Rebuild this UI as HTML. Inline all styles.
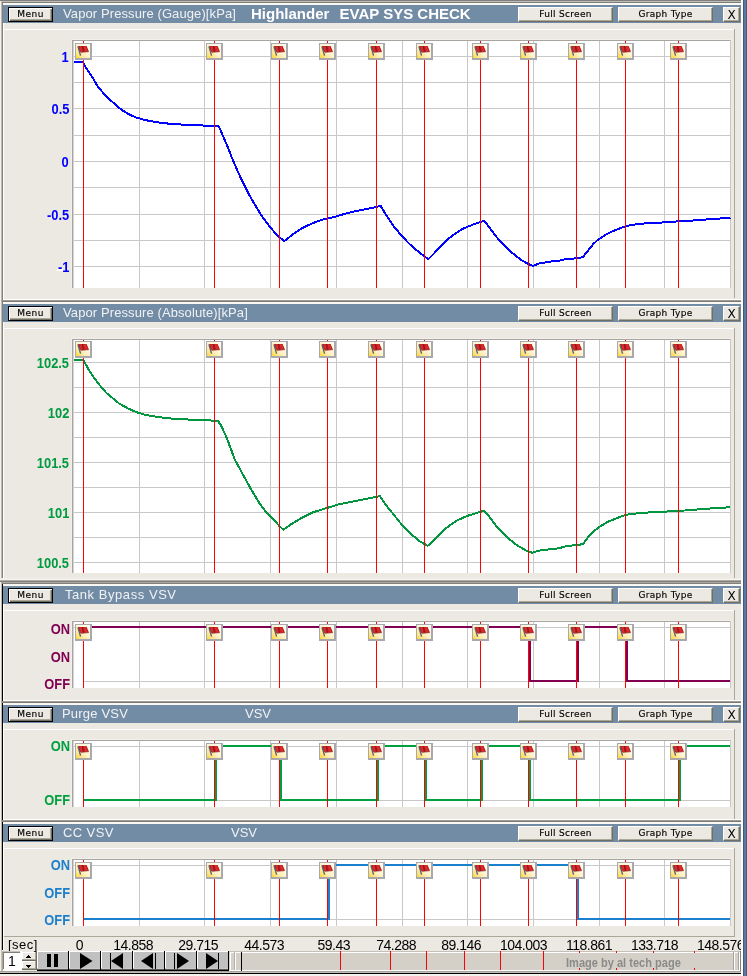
<!DOCTYPE html>
<html><head><meta charset="utf-8"><title>EVAP SYS CHECK</title><style>
*{margin:0;padding:0;box-sizing:border-box}
html,body{width:747px;height:976px;overflow:hidden;background:#ece9e2}
body{position:relative;font-family:"Liberation Sans", Arial, sans-serif}
div,span{position:absolute}
.t{white-space:nowrap}
.ttl{font-size:13px;line-height:18px;color:#f0f2f4}
.ttlb{font-size:15px;line-height:18px;color:#ffffff;font-weight:bold}
.btn{background:#ece9e2;border-top:1px solid #fff;border-left:1px solid #fff;border-right:1px solid #716f64;border-bottom:1px solid #716f64;box-shadow:inset -1px -1px 0 #aca899}
.btn.menu{border:1px solid #000;box-shadow:inset 1px 1px 0 #fff, inset -1px -1px 0 #716f64, inset -2px -2px 0 #aca899}
.bi{position:absolute;left:0;right:0;top:0;bottom:0;text-align:center;font-family:"DejaVu Sans",sans-serif;font-size:9px;line-height:13px;letter-spacing:0.3px;color:#000;-webkit-text-stroke:0.15px #000}
.menu .bi{letter-spacing:0.5px}
.bi.x{font-size:12px;letter-spacing:0;line-height:14px;-webkit-text-stroke:0}
.yl{font-size:14px;line-height:14px;font-weight:bold;white-space:nowrap;transform:scaleX(0.92);transform-origin:100% 50%}
.ax{font-size:14px;line-height:13px;color:#000;white-space:nowrap;letter-spacing:-0.5px}
.tb{background:#c0c0c0;border-right:1px solid #000;box-shadow:inset 1px 0 0 #fff}
.wm{font-size:13px;line-height:13px;font-weight:bold;color:#8a8a8a;transform:scaleX(0.85);transform-origin:0 0;white-space:nowrap}
</style></head>
<body>
<div style="left:0px;top:0px;width:741px;height:1px;background:#808080;"></div>
<div style="left:0px;top:1px;width:1px;height:975px;background:#f4f1eb;"></div>
<div style="left:1px;top:1px;width:1px;height:972px;background:#bdb9b0;"></div>
<div style="left:2px;top:2px;width:1px;height:579px;background:#808080;"></div>
<div style="left:2px;top:583px;width:1px;height:367px;background:#000000;"></div>
<div style="left:3px;top:3px;width:1px;height:947px;background:#ffffff;"></div>
<div style="left:1px;top:1px;width:740px;height:1px;background:#c0bcb4;"></div>
<div style="left:2px;top:2px;width:739px;height:1px;background:#7f7f7a;"></div>
<div style="left:3px;top:3px;width:738px;height:2px;background:#faf8f3;"></div>
<div style="left:3px;top:5px;width:738px;height:18px;background:#738ca5;"></div>
<div class="btn menu" style="left:8px;top:7px;width:45px;height:15px"><div class="bi">Menu</div></div>
<div class="btn" style="left:518px;top:7px;width:95px;height:15px"><div class="bi">Full Screen</div></div>
<div class="btn" style="left:618px;top:7px;width:95px;height:15px"><div class="bi">Graph Type</div></div>
<div class="btn" style="left:723px;top:7px;width:17px;height:15px"><div class="bi x">X</div></div>
<span class="t ttl" style="left:63px;top:5px;letter-spacing:0.1px">Vapor Pressure (Gauge)[kPa]</span>
<span class="t ttlb" style="left:251px;top:5px;">Highlander</span>
<span class="t ttlb" style="left:339.5px;top:5px;">EVAP SYS CHECK</span>
<div style="left:3px;top:29px;width:732px;height:1px;background:#ffffff;"></div>
<div style="left:734px;top:29px;width:1px;height:269px;background:#aca899;"></div>
<div style="left:71px;top:39px;width:660px;height:1px;background:#f2f0ea;"></div>
<div style="left:71px;top:39px;width:1px;height:249px;background:#f2f0ea;"></div>
<div style="left:72px;top:40px;width:659px;height:248px;background:#ffffff;"></div>
<div style="left:72px;top:40px;width:659px;height:1px;background:#a8a5a0;"></div>
<div style="left:72px;top:40px;width:1px;height:248px;background:#a8a5a0;"></div>
<div style="left:73px;top:41px;width:1px;height:247px;background:#d4d4d4;"></div>
<div style="left:730px;top:40px;width:1px;height:248px;background:#c8c8c8;"></div>
<div style="left:3px;top:299px;width:738px;height:1px;background:#ffffff;"></div>
<div style="left:1px;top:300px;width:740px;height:1px;background:#a09d95;"></div>
<div style="left:2px;top:301px;width:739px;height:1px;background:#7a7a72;"></div>
<div style="left:3px;top:302px;width:738px;height:2px;background:#faf8f3;"></div>
<div style="left:3px;top:304px;width:738px;height:18px;background:#738ca5;"></div>
<div class="btn menu" style="left:8px;top:306px;width:45px;height:15px"><div class="bi">Menu</div></div>
<div class="btn" style="left:518px;top:306px;width:95px;height:15px"><div class="bi">Full Screen</div></div>
<div class="btn" style="left:618px;top:306px;width:95px;height:15px"><div class="bi">Graph Type</div></div>
<div class="btn" style="left:723px;top:306px;width:17px;height:15px"><div class="bi x">X</div></div>
<span class="t ttl" style="left:63px;top:304px;letter-spacing:0.1px">Vapor Pressure (Absolute)[kPa]</span>
<div style="left:3px;top:328px;width:732px;height:1px;background:#ffffff;"></div>
<div style="left:734px;top:328px;width:1px;height:250px;background:#aca899;"></div>
<div style="left:71px;top:338px;width:660px;height:1px;background:#f2f0ea;"></div>
<div style="left:71px;top:338px;width:1px;height:235px;background:#f2f0ea;"></div>
<div style="left:72px;top:339px;width:659px;height:234px;background:#ffffff;"></div>
<div style="left:72px;top:339px;width:659px;height:1px;background:#a8a5a0;"></div>
<div style="left:72px;top:339px;width:1px;height:234px;background:#a8a5a0;"></div>
<div style="left:73px;top:340px;width:1px;height:233px;background:#d4d4d4;"></div>
<div style="left:730px;top:339px;width:1px;height:234px;background:#c8c8c8;"></div>
<div style="left:0px;top:578px;width:741px;height:1px;background:#f0ede8;"></div>
<div style="left:0px;top:579px;width:741px;height:1px;background:#f6f4ee;"></div>
<div style="left:0px;top:580px;width:741px;height:1px;background:#b0ada5;"></div>
<div style="left:0px;top:581px;width:741px;height:1px;background:#808078;"></div>
<div style="left:1px;top:582px;width:740px;height:1px;background:#aca899;"></div>
<div style="left:2px;top:583px;width:739px;height:1px;background:#808080;"></div>
<div style="left:3px;top:584px;width:738px;height:2px;background:#faf8f3;"></div>
<div style="left:3px;top:586px;width:738px;height:18px;background:#738ca5;"></div>
<div class="btn menu" style="left:8px;top:588px;width:45px;height:15px"><div class="bi">Menu</div></div>
<div class="btn" style="left:518px;top:588px;width:95px;height:15px"><div class="bi">Full Screen</div></div>
<div class="btn" style="left:618px;top:588px;width:95px;height:15px"><div class="bi">Graph Type</div></div>
<div class="btn" style="left:723px;top:588px;width:17px;height:15px"><div class="bi x">X</div></div>
<span class="t ttl" style="left:65px;top:586px;letter-spacing:0.55px">Tank Bypass VSV</span>
<div style="left:3px;top:610px;width:732px;height:1px;background:#ffffff;"></div>
<div style="left:734px;top:610px;width:1px;height:90px;background:#aca899;"></div>
<div style="left:71px;top:620px;width:660px;height:1px;background:#f2f0ea;"></div>
<div style="left:71px;top:620px;width:1px;height:68px;background:#f2f0ea;"></div>
<div style="left:72px;top:621px;width:659px;height:67px;background:#ffffff;"></div>
<div style="left:72px;top:621px;width:659px;height:1px;background:#a8a5a0;"></div>
<div style="left:72px;top:621px;width:1px;height:67px;background:#a8a5a0;"></div>
<div style="left:73px;top:622px;width:1px;height:66px;background:#d4d4d4;"></div>
<div style="left:730px;top:621px;width:1px;height:67px;background:#c8c8c8;"></div>
<div style="left:3px;top:700px;width:738px;height:1px;background:#ffffff;"></div>
<div style="left:1px;top:701px;width:740px;height:1px;background:#a09d95;"></div>
<div style="left:2px;top:702px;width:739px;height:1px;background:#7a7a72;"></div>
<div style="left:3px;top:703px;width:738px;height:2px;background:#faf8f3;"></div>
<div style="left:3px;top:705px;width:738px;height:18px;background:#738ca5;"></div>
<div class="btn menu" style="left:8px;top:707px;width:45px;height:15px"><div class="bi">Menu</div></div>
<div class="btn" style="left:518px;top:707px;width:95px;height:15px"><div class="bi">Full Screen</div></div>
<div class="btn" style="left:618px;top:707px;width:95px;height:15px"><div class="bi">Graph Type</div></div>
<div class="btn" style="left:723px;top:707px;width:17px;height:15px"><div class="bi x">X</div></div>
<span class="t ttl" style="left:62px;top:705px;letter-spacing:0.2px">Purge VSV</span>
<span class="t ttl" style="left:245px;top:705px;">VSV</span>
<div style="left:3px;top:729px;width:732px;height:1px;background:#ffffff;"></div>
<div style="left:734px;top:729px;width:1px;height:90px;background:#aca899;"></div>
<div style="left:71px;top:739px;width:660px;height:1px;background:#f2f0ea;"></div>
<div style="left:71px;top:739px;width:1px;height:68px;background:#f2f0ea;"></div>
<div style="left:72px;top:740px;width:659px;height:67px;background:#ffffff;"></div>
<div style="left:72px;top:740px;width:659px;height:1px;background:#a8a5a0;"></div>
<div style="left:72px;top:740px;width:1px;height:67px;background:#a8a5a0;"></div>
<div style="left:73px;top:741px;width:1px;height:66px;background:#d4d4d4;"></div>
<div style="left:730px;top:740px;width:1px;height:67px;background:#c8c8c8;"></div>
<div style="left:3px;top:819px;width:738px;height:1px;background:#ffffff;"></div>
<div style="left:1px;top:820px;width:740px;height:1px;background:#a09d95;"></div>
<div style="left:2px;top:821px;width:739px;height:1px;background:#7a7a72;"></div>
<div style="left:3px;top:822px;width:738px;height:2px;background:#faf8f3;"></div>
<div style="left:3px;top:824px;width:738px;height:18px;background:#738ca5;"></div>
<div class="btn menu" style="left:8px;top:826px;width:45px;height:15px"><div class="bi">Menu</div></div>
<div class="btn" style="left:518px;top:826px;width:95px;height:15px"><div class="bi">Full Screen</div></div>
<div class="btn" style="left:618px;top:826px;width:95px;height:15px"><div class="bi">Graph Type</div></div>
<div class="btn" style="left:723px;top:826px;width:17px;height:15px"><div class="bi x">X</div></div>
<span class="t ttl" style="left:63px;top:824px;letter-spacing:0.4px">CC VSV</span>
<span class="t ttl" style="left:231px;top:824px;">VSV</span>
<div style="left:3px;top:848px;width:732px;height:1px;background:#ffffff;"></div>
<div style="left:734px;top:848px;width:1px;height:88px;background:#aca899;"></div>
<div style="left:71px;top:858px;width:660px;height:1px;background:#f2f0ea;"></div>
<div style="left:71px;top:858px;width:1px;height:68px;background:#f2f0ea;"></div>
<div style="left:72px;top:859px;width:659px;height:67px;background:#ffffff;"></div>
<div style="left:72px;top:859px;width:659px;height:1px;background:#a8a5a0;"></div>
<div style="left:72px;top:859px;width:1px;height:67px;background:#a8a5a0;"></div>
<div style="left:73px;top:860px;width:1px;height:66px;background:#d4d4d4;"></div>
<div style="left:730px;top:859px;width:1px;height:67px;background:#c8c8c8;"></div>
<div style="left:4px;top:936px;width:731px;height:1px;background:#aca899;"></div>
<span class="yl" style="right:678px;top:50px;color:#0000ff">1</span>
<span class="yl" style="right:678px;top:102px;color:#0000ff">0.5</span>
<span class="yl" style="right:678px;top:155px;color:#0000ff">0</span>
<span class="yl" style="right:678px;top:208px;color:#0000ff">-0.5</span>
<span class="yl" style="right:678px;top:260px;color:#0000ff">-1</span>
<span class="yl" style="right:678px;top:356px;color:#009a40">102.5</span>
<span class="yl" style="right:678px;top:406px;color:#009a40">102</span>
<span class="yl" style="right:678px;top:456px;color:#009a40">101.5</span>
<span class="yl" style="right:678px;top:506px;color:#009a40">101</span>
<span class="yl" style="right:678px;top:556px;color:#009a40">100.5</span>
<span class="yl" style="right:677px;top:622px;color:#820052">ON</span>
<span class="yl" style="right:677px;top:650px;color:#820052">ON</span>
<span class="yl" style="right:677px;top:677px;color:#820052">OFF</span>
<span class="yl" style="right:677px;top:739px;color:#00a040">ON</span>
<span class="yl" style="right:677px;top:793px;color:#00a040">OFF</span>
<span class="yl" style="right:677px;top:858px;color:#1a7fcc">ON</span>
<span class="yl" style="right:677px;top:886px;color:#1a7fcc">OFF</span>
<span class="yl" style="right:677px;top:913px;color:#1a7fcc">OFF</span>
<div style="left:57px;top:269px;width:6px;height:2px;background:#ffffff;"></div>
<span class="t ax" style="left:8px;top:938px;font-size:13px;letter-spacing:0.5px">[sec]</span>
<span class="ax" style="right:664px;top:939px">0</span>
<span class="ax" style="right:594px;top:939px">14.858</span>
<span class="ax" style="right:529px;top:939px">29.715</span>
<span class="ax" style="right:463px;top:939px">44.573</span>
<span class="ax" style="right:397px;top:939px">59.43</span>
<span class="ax" style="right:331px;top:939px">74.288</span>
<span class="ax" style="right:266px;top:939px">89.146</span>
<span class="ax" style="right:200px;top:939px">104.003</span>
<span class="ax" style="right:135px;top:939px">118.861</span>
<span class="ax" style="right:69px;top:939px">133.718</span>
<span class="ax" style="right:3px;top:939px">148.576</span>
<svg width="747" height="976" viewBox="0 0 747 976" style="position:absolute;left:0;top:0">
<defs><linearGradient id="fg" x1="0" y1="1" x2="1" y2="0"><stop offset="0" stop-color="#ffd628"/><stop offset="0.22" stop-color="#ffe68a"/><stop offset="0.5" stop-color="#fff3cf"/><stop offset="1" stop-color="#fffff6"/></linearGradient><g id="flag"><rect x="0" y="0" width="17" height="17" fill="#a9a9ad"/><rect x="1" y="1" width="14" height="14" fill="url(#fg)"/><path d="M3,3 L11.6,3 L13.9,8.6 L5.4,9.3 L3.6,6.5 Z" fill="#b81a1e"/><path d="M4.3,3.3 L6.6,3.3 L7.8,8.9 L5.8,9.1 Z" fill="#dc2c2e"/><path d="M8.4,3.3 L10.9,3.3 L12.7,8.5 L10.1,8.7 Z" fill="#dc2c2e"/><path d="M7.3,3 L8.5,9" stroke="#861818" stroke-width="0.9"/><path d="M6,9.4 L13.9,8.6" stroke="#8a2a30" stroke-width="0.7"/><path d="M2.9,3.4 L5.6,12.6" stroke="#5c6272" stroke-width="1.4"/></g></defs>
<g shape-rendering="crispEdges">
<rect x="74" y="56" width="656" height="1" fill="#c8c8c8"/>
<rect x="74" y="82" width="656" height="1" fill="#c8c8c8"/>
<rect x="74" y="108" width="656" height="1" fill="#c8c8c8"/>
<rect x="74" y="135" width="656" height="1" fill="#c8c8c8"/>
<rect x="74" y="161" width="656" height="1" fill="#c8c8c8"/>
<rect x="74" y="187" width="656" height="1" fill="#c8c8c8"/>
<rect x="74" y="214" width="656" height="1" fill="#c8c8c8"/>
<rect x="74" y="240" width="656" height="1" fill="#c8c8c8"/>
<rect x="74" y="266" width="656" height="1" fill="#c8c8c8"/>
<rect x="139" y="41" width="1" height="247" fill="#c8c8c8"/>
<rect x="204" y="41" width="1" height="247" fill="#c8c8c8"/>
<rect x="270" y="41" width="1" height="247" fill="#c8c8c8"/>
<rect x="336" y="41" width="1" height="247" fill="#c8c8c8"/>
<rect x="402" y="41" width="1" height="247" fill="#c8c8c8"/>
<rect x="467" y="41" width="1" height="247" fill="#c8c8c8"/>
<rect x="533" y="41" width="1" height="247" fill="#c8c8c8"/>
<rect x="599" y="41" width="1" height="247" fill="#c8c8c8"/>
<rect x="664" y="41" width="1" height="247" fill="#c8c8c8"/>
<rect x="74" y="362" width="656" height="1" fill="#c8c8c8"/>
<rect x="74" y="387" width="656" height="1" fill="#c8c8c8"/>
<rect x="74" y="412" width="656" height="1" fill="#c8c8c8"/>
<rect x="74" y="437" width="656" height="1" fill="#c8c8c8"/>
<rect x="74" y="462" width="656" height="1" fill="#c8c8c8"/>
<rect x="74" y="487" width="656" height="1" fill="#c8c8c8"/>
<rect x="74" y="512" width="656" height="1" fill="#c8c8c8"/>
<rect x="74" y="537" width="656" height="1" fill="#c8c8c8"/>
<rect x="74" y="562" width="656" height="1" fill="#c8c8c8"/>
<rect x="139" y="340" width="1" height="233" fill="#c8c8c8"/>
<rect x="204" y="340" width="1" height="233" fill="#c8c8c8"/>
<rect x="270" y="340" width="1" height="233" fill="#c8c8c8"/>
<rect x="336" y="340" width="1" height="233" fill="#c8c8c8"/>
<rect x="402" y="340" width="1" height="233" fill="#c8c8c8"/>
<rect x="467" y="340" width="1" height="233" fill="#c8c8c8"/>
<rect x="533" y="340" width="1" height="233" fill="#c8c8c8"/>
<rect x="599" y="340" width="1" height="233" fill="#c8c8c8"/>
<rect x="664" y="340" width="1" height="233" fill="#c8c8c8"/>
<rect x="74" y="627" width="656" height="1" fill="#c8c8c8"/>
<rect x="84" y="681" width="646" height="1" fill="#c8c8c8"/>
<rect x="139" y="622" width="1" height="66" fill="#c8c8c8"/>
<rect x="204" y="622" width="1" height="66" fill="#c8c8c8"/>
<rect x="270" y="622" width="1" height="66" fill="#c8c8c8"/>
<rect x="336" y="622" width="1" height="66" fill="#c8c8c8"/>
<rect x="402" y="622" width="1" height="66" fill="#c8c8c8"/>
<rect x="467" y="622" width="1" height="66" fill="#c8c8c8"/>
<rect x="533" y="622" width="1" height="66" fill="#c8c8c8"/>
<rect x="599" y="622" width="1" height="66" fill="#c8c8c8"/>
<rect x="664" y="622" width="1" height="66" fill="#c8c8c8"/>
<rect x="74" y="746" width="656" height="1" fill="#c8c8c8"/>
<rect x="84" y="800" width="646" height="1" fill="#c8c8c8"/>
<rect x="139" y="741" width="1" height="66" fill="#c8c8c8"/>
<rect x="204" y="741" width="1" height="66" fill="#c8c8c8"/>
<rect x="270" y="741" width="1" height="66" fill="#c8c8c8"/>
<rect x="336" y="741" width="1" height="66" fill="#c8c8c8"/>
<rect x="402" y="741" width="1" height="66" fill="#c8c8c8"/>
<rect x="467" y="741" width="1" height="66" fill="#c8c8c8"/>
<rect x="533" y="741" width="1" height="66" fill="#c8c8c8"/>
<rect x="599" y="741" width="1" height="66" fill="#c8c8c8"/>
<rect x="664" y="741" width="1" height="66" fill="#c8c8c8"/>
<rect x="74" y="865" width="656" height="1" fill="#c8c8c8"/>
<rect x="84" y="919" width="646" height="1" fill="#c8c8c8"/>
<rect x="139" y="860" width="1" height="66" fill="#c8c8c8"/>
<rect x="204" y="860" width="1" height="66" fill="#c8c8c8"/>
<rect x="270" y="860" width="1" height="66" fill="#c8c8c8"/>
<rect x="336" y="860" width="1" height="66" fill="#c8c8c8"/>
<rect x="402" y="860" width="1" height="66" fill="#c8c8c8"/>
<rect x="467" y="860" width="1" height="66" fill="#c8c8c8"/>
<rect x="533" y="860" width="1" height="66" fill="#c8c8c8"/>
<rect x="599" y="860" width="1" height="66" fill="#c8c8c8"/>
<rect x="664" y="860" width="1" height="66" fill="#c8c8c8"/>
</g>
<polyline points="74.0,62.0 83.1,62.0 84.9,66.1 89.1,72.5 93.4,78.9 97.7,86.4 104.1,93.9 110.6,100.3 117.0,106.1 123.4,111.0 129.8,114.7 136.3,117.5 144.8,120.0 157.7,122.4 172.7,124.1 191.9,125.0 204.8,125.6 218.7,126.2 222.8,135.4 226.8,144.8 232.1,158.2 237.5,171.0 242.8,182.3 248.2,193.0 253.5,202.4 261.6,215.8 269.6,226.5 277.6,235.8 284.3,241.2 291.0,235.8 299.1,229.9 307.1,225.7 317.8,221.1 327.2,218.4 333.9,217.1 344.6,213.9 355.3,211.2 366.0,209.1 376.7,206.9 380.7,205.9 384.8,212.9 389.6,220.1 394.5,227.3 401.7,235.8 408.9,243.5 416.1,249.8 423.4,255.5 428.2,259.2 433.0,254.6 440.2,246.6 447.5,239.4 454.7,233.9 461.9,229.3 469.2,226.1 476.4,223.3 484.1,220.8 488.4,226.1 493.3,232.9 500.5,241.8 507.7,249.0 514.9,255.1 522.2,260.6 528.2,264.0 533.0,265.9 539.0,263.5 548.7,261.8 559.5,260.6 566.1,258.9 576.6,258.4 583.0,257.1 588.0,250.6 592.6,244.8 597.4,240.1 605.3,234.9 613.1,231.0 620.9,227.9 626.2,226.0 636.6,224.2 649.7,222.9 665.3,222.4 678.4,221.3 696.7,220.3 709.7,219.2 730.5,217.8" fill="none" stroke="#0000ff" stroke-width="2" stroke-linejoin="round" shape-rendering="crispEdges"/>
<polyline points="74.0,360.0 83.1,360.0 84.9,362.9 89.1,370.3 93.4,376.8 99.8,385.3 106.3,392.8 112.7,398.2 119.1,403.5 127.7,408.3 136.3,412.1 144.8,414.7 157.7,417.0 170.5,418.5 183.4,419.4 200.5,419.8 210.7,420.5 218.2,421.2 221.4,426.1 226.8,438.1 234.8,459.5 242.8,474.3 250.9,489.0 258.9,502.4 266.9,513.1 275.0,521.1 279.8,526.5 283.5,529.7 291.0,524.3 301.7,517.9 312.4,512.5 325.8,508.3 339.2,504.2 355.3,501.0 368.7,498.4 379.9,496.2 384.8,503.6 392.0,512.5 401.7,524.6 411.3,534.2 419.8,541.4 427.7,545.8 433.0,541.4 440.2,533.5 447.5,527.0 457.1,520.5 466.7,516.1 476.4,513.0 484.1,510.8 488.4,515.7 498.1,528.2 507.7,537.8 517.3,545.5 527.0,551.1 532.3,552.8 539.0,550.6 548.7,549.4 559.5,548.2 566.1,546.1 576.6,545.0 583.0,544.2 588.0,537.4 592.6,532.2 600.0,526.5 607.9,521.8 617.0,518.1 626.2,514.7 636.6,513.4 649.7,512.4 665.3,511.6 681.0,510.8 696.7,509.5 717.5,507.9 730.5,507.3" fill="none" stroke="#00953f" stroke-width="2" stroke-linejoin="round" shape-rendering="crispEdges"/>
<polyline points="84,627 530,627 530,681 578,681 578,627 627,627 627,681 730,681" fill="none" stroke="#820052" stroke-width="2" shape-rendering="crispEdges"/>
<polyline points="84,800 216,800 216,746 281,746 281,800 378,800 378,746 426,746 426,800 482,800 482,746 530,746 530,800 680,800 680,746 730,746" fill="none" stroke="#00a040" stroke-width="2" shape-rendering="crispEdges"/>
<polyline points="84,919 329,919 329,865 578,865 578,919 730,919" fill="none" stroke="#1a7fcc" stroke-width="2" shape-rendering="crispEdges"/>
<g shape-rendering="crispEdges">
<rect x="83" y="41" width="1" height="247" fill="#ff0000"/>
<rect x="214" y="41" width="1" height="247" fill="#ff0000"/>
<rect x="279" y="41" width="1" height="247" fill="#ff0000"/>
<rect x="327" y="41" width="1" height="247" fill="#ff0000"/>
<rect x="376" y="41" width="1" height="247" fill="#ff0000"/>
<rect x="424" y="41" width="1" height="247" fill="#ff0000"/>
<rect x="480" y="41" width="1" height="247" fill="#ff0000"/>
<rect x="528" y="41" width="1" height="247" fill="#ff0000"/>
<rect x="576" y="41" width="1" height="247" fill="#ff0000"/>
<rect x="625" y="41" width="1" height="247" fill="#ff0000"/>
<rect x="678" y="41" width="1" height="247" fill="#ff0000"/>
<rect x="83" y="340" width="1" height="233" fill="#ff0000"/>
<rect x="214" y="340" width="1" height="233" fill="#ff0000"/>
<rect x="279" y="340" width="1" height="233" fill="#ff0000"/>
<rect x="327" y="340" width="1" height="233" fill="#ff0000"/>
<rect x="376" y="340" width="1" height="233" fill="#ff0000"/>
<rect x="424" y="340" width="1" height="233" fill="#ff0000"/>
<rect x="480" y="340" width="1" height="233" fill="#ff0000"/>
<rect x="528" y="340" width="1" height="233" fill="#ff0000"/>
<rect x="576" y="340" width="1" height="233" fill="#ff0000"/>
<rect x="625" y="340" width="1" height="233" fill="#ff0000"/>
<rect x="678" y="340" width="1" height="233" fill="#ff0000"/>
<rect x="83" y="622" width="1" height="66" fill="#ff0000"/>
<rect x="214" y="622" width="1" height="66" fill="#ff0000"/>
<rect x="279" y="622" width="1" height="66" fill="#ff0000"/>
<rect x="327" y="622" width="1" height="66" fill="#ff0000"/>
<rect x="376" y="622" width="1" height="66" fill="#ff0000"/>
<rect x="424" y="622" width="1" height="66" fill="#ff0000"/>
<rect x="480" y="622" width="1" height="66" fill="#ff0000"/>
<rect x="528" y="622" width="1" height="66" fill="#ff0000"/>
<rect x="576" y="622" width="1" height="66" fill="#ff0000"/>
<rect x="625" y="622" width="1" height="66" fill="#ff0000"/>
<rect x="678" y="622" width="1" height="66" fill="#ff0000"/>
<rect x="83" y="741" width="1" height="66" fill="#ff0000"/>
<rect x="214" y="741" width="1" height="66" fill="#ff0000"/>
<rect x="279" y="741" width="1" height="66" fill="#ff0000"/>
<rect x="327" y="741" width="1" height="66" fill="#ff0000"/>
<rect x="376" y="741" width="1" height="66" fill="#ff0000"/>
<rect x="424" y="741" width="1" height="66" fill="#ff0000"/>
<rect x="480" y="741" width="1" height="66" fill="#ff0000"/>
<rect x="528" y="741" width="1" height="66" fill="#ff0000"/>
<rect x="576" y="741" width="1" height="66" fill="#ff0000"/>
<rect x="625" y="741" width="1" height="66" fill="#ff0000"/>
<rect x="678" y="741" width="1" height="66" fill="#ff0000"/>
<rect x="83" y="860" width="1" height="66" fill="#ff0000"/>
<rect x="214" y="860" width="1" height="66" fill="#ff0000"/>
<rect x="279" y="860" width="1" height="66" fill="#ff0000"/>
<rect x="327" y="860" width="1" height="66" fill="#ff0000"/>
<rect x="376" y="860" width="1" height="66" fill="#ff0000"/>
<rect x="424" y="860" width="1" height="66" fill="#ff0000"/>
<rect x="480" y="860" width="1" height="66" fill="#ff0000"/>
<rect x="528" y="860" width="1" height="66" fill="#ff0000"/>
<rect x="576" y="860" width="1" height="66" fill="#ff0000"/>
<rect x="625" y="860" width="1" height="66" fill="#ff0000"/>
<rect x="678" y="860" width="1" height="66" fill="#ff0000"/>
</g>
<use href="#flag" x="75" y="43"/>
<use href="#flag" x="206" y="43"/>
<use href="#flag" x="271" y="43"/>
<use href="#flag" x="319" y="43"/>
<use href="#flag" x="368" y="43"/>
<use href="#flag" x="416" y="43"/>
<use href="#flag" x="472" y="43"/>
<use href="#flag" x="520" y="43"/>
<use href="#flag" x="568" y="43"/>
<use href="#flag" x="617" y="43"/>
<use href="#flag" x="670" y="43"/>
<use href="#flag" x="75" y="341"/>
<use href="#flag" x="206" y="341"/>
<use href="#flag" x="271" y="341"/>
<use href="#flag" x="319" y="341"/>
<use href="#flag" x="368" y="341"/>
<use href="#flag" x="416" y="341"/>
<use href="#flag" x="472" y="341"/>
<use href="#flag" x="520" y="341"/>
<use href="#flag" x="568" y="341"/>
<use href="#flag" x="617" y="341"/>
<use href="#flag" x="670" y="341"/>
<use href="#flag" x="75" y="624"/>
<use href="#flag" x="206" y="624"/>
<use href="#flag" x="271" y="624"/>
<use href="#flag" x="319" y="624"/>
<use href="#flag" x="368" y="624"/>
<use href="#flag" x="416" y="624"/>
<use href="#flag" x="472" y="624"/>
<use href="#flag" x="520" y="624"/>
<use href="#flag" x="568" y="624"/>
<use href="#flag" x="617" y="624"/>
<use href="#flag" x="670" y="624"/>
<use href="#flag" x="75" y="743"/>
<use href="#flag" x="206" y="743"/>
<use href="#flag" x="271" y="743"/>
<use href="#flag" x="319" y="743"/>
<use href="#flag" x="368" y="743"/>
<use href="#flag" x="416" y="743"/>
<use href="#flag" x="472" y="743"/>
<use href="#flag" x="520" y="743"/>
<use href="#flag" x="568" y="743"/>
<use href="#flag" x="617" y="743"/>
<use href="#flag" x="670" y="743"/>
<use href="#flag" x="75" y="862"/>
<use href="#flag" x="206" y="862"/>
<use href="#flag" x="271" y="862"/>
<use href="#flag" x="319" y="862"/>
<use href="#flag" x="368" y="862"/>
<use href="#flag" x="416" y="862"/>
<use href="#flag" x="472" y="862"/>
<use href="#flag" x="520" y="862"/>
<use href="#flag" x="568" y="862"/>
<use href="#flag" x="617" y="862"/>
<use href="#flag" x="670" y="862"/>
</svg>
<div style="left:0px;top:971px;width:741px;height:1px;background:#a4a29c;"></div>
<div style="left:0px;top:972px;width:741px;height:1px;background:#c4c0b8;"></div>
<div style="left:0px;top:973px;width:741px;height:1px;background:#000000;"></div>
<div style="left:0px;top:974px;width:741px;height:2px;background:#f4f2ec;"></div>
<div style="left:1px;top:951px;width:20px;height:1px;background:#c4c0b8;"></div>
<div style="left:2px;top:952px;width:19px;height:1px;background:#808078;"></div>
<div style="left:1px;top:951px;width:1px;height:20px;background:#c4c0b8;"></div>
<div style="left:2px;top:952px;width:1px;height:19px;background:#aca899;"></div>
<div style="left:3px;top:952px;width:1px;height:18px;background:#808078;"></div>
<div style="left:4px;top:953px;width:17px;height:16px;background:#ffffff;"></div>
<div style="left:3px;top:969px;width:19px;height:2px;background:#ffffff;"></div>
<div style="left:20px;top:951px;width:2px;height:20px;background:#ffffff;"></div>
<span class="t ax" style="left:8px;top:955px;">1</span>
<div style="left:22px;top:952px;width:13px;height:7px;background:#ece9e2;"></div>
<div style="left:22px;top:952px;width:13px;height:1px;background:#ffffff;"></div>
<div style="left:22px;top:952px;width:1px;height:7px;background:#ffffff;"></div>
<div style="left:22px;top:959px;width:14px;height:1px;background:#aca899;"></div>
<div style="left:22px;top:960px;width:15px;height:1px;background:#716f64;"></div>
<div style="left:35px;top:952px;width:1px;height:8px;background:#aca899;"></div>
<div style="left:36px;top:951px;width:1px;height:10px;background:#716f64;"></div>
<div style="left:22px;top:961px;width:13px;height:7px;background:#ece9e2;"></div>
<div style="left:22px;top:961px;width:13px;height:1px;background:#ffffff;"></div>
<div style="left:22px;top:961px;width:1px;height:7px;background:#ffffff;"></div>
<div style="left:22px;top:968px;width:14px;height:1px;background:#aca899;"></div>
<div style="left:22px;top:969px;width:15px;height:1px;background:#716f64;"></div>
<div style="left:35px;top:961px;width:1px;height:8px;background:#aca899;"></div>
<div style="left:36px;top:961px;width:1px;height:9px;background:#716f64;"></div>
<div style="left:28px;top:955px;width:1px;height:1px;background:#000;"></div>
<div style="left:27px;top:956px;width:3px;height:1px;background:#000;"></div>
<div style="left:26px;top:957px;width:5px;height:1px;background:#000;"></div>
<div style="left:26px;top:965px;width:5px;height:1px;background:#000;"></div>
<div style="left:27px;top:966px;width:3px;height:1px;background:#000;"></div>
<div style="left:28px;top:967px;width:1px;height:1px;background:#000;"></div>
<div style="left:37px;top:951px;width:31px;height:20px;background:#c0c0c0;"></div>
<div style="left:37px;top:951px;width:31px;height:1px;background:#ffffff;"></div>
<div style="left:37px;top:951px;width:1px;height:19px;background:#ffffff;"></div>
<div style="left:37px;top:968px;width:31px;height:1px;background:#cacaca;"></div>
<div style="left:37px;top:969px;width:32px;height:1px;background:#5a5a5a;"></div>
<div style="left:37px;top:970px;width:32px;height:1px;background:#000000;"></div>
<div style="left:68px;top:951px;width:1px;height:20px;background:#000000;"></div>
<div style="left:69px;top:951px;width:31px;height:20px;background:#c0c0c0;"></div>
<div style="left:69px;top:951px;width:31px;height:1px;background:#ffffff;"></div>
<div style="left:69px;top:951px;width:1px;height:19px;background:#ffffff;"></div>
<div style="left:69px;top:968px;width:31px;height:1px;background:#cacaca;"></div>
<div style="left:69px;top:969px;width:32px;height:1px;background:#5a5a5a;"></div>
<div style="left:69px;top:970px;width:32px;height:1px;background:#000000;"></div>
<div style="left:100px;top:951px;width:1px;height:20px;background:#000000;"></div>
<div style="left:101px;top:951px;width:31px;height:20px;background:#c0c0c0;"></div>
<div style="left:101px;top:951px;width:31px;height:1px;background:#ffffff;"></div>
<div style="left:101px;top:951px;width:1px;height:19px;background:#ffffff;"></div>
<div style="left:101px;top:968px;width:31px;height:1px;background:#cacaca;"></div>
<div style="left:101px;top:969px;width:32px;height:1px;background:#5a5a5a;"></div>
<div style="left:101px;top:970px;width:32px;height:1px;background:#000000;"></div>
<div style="left:132px;top:951px;width:1px;height:20px;background:#000000;"></div>
<div style="left:133px;top:951px;width:31px;height:20px;background:#c0c0c0;"></div>
<div style="left:133px;top:951px;width:31px;height:1px;background:#ffffff;"></div>
<div style="left:133px;top:951px;width:1px;height:19px;background:#ffffff;"></div>
<div style="left:133px;top:968px;width:31px;height:1px;background:#cacaca;"></div>
<div style="left:133px;top:969px;width:32px;height:1px;background:#5a5a5a;"></div>
<div style="left:133px;top:970px;width:32px;height:1px;background:#000000;"></div>
<div style="left:164px;top:951px;width:1px;height:20px;background:#000000;"></div>
<div style="left:165px;top:951px;width:31px;height:20px;background:#c0c0c0;"></div>
<div style="left:165px;top:951px;width:31px;height:1px;background:#ffffff;"></div>
<div style="left:165px;top:951px;width:1px;height:19px;background:#ffffff;"></div>
<div style="left:165px;top:968px;width:31px;height:1px;background:#cacaca;"></div>
<div style="left:165px;top:969px;width:32px;height:1px;background:#5a5a5a;"></div>
<div style="left:165px;top:970px;width:32px;height:1px;background:#000000;"></div>
<div style="left:196px;top:951px;width:1px;height:20px;background:#000000;"></div>
<div style="left:197px;top:951px;width:31px;height:20px;background:#c0c0c0;"></div>
<div style="left:197px;top:951px;width:31px;height:1px;background:#ffffff;"></div>
<div style="left:197px;top:951px;width:1px;height:19px;background:#ffffff;"></div>
<div style="left:197px;top:968px;width:31px;height:1px;background:#cacaca;"></div>
<div style="left:197px;top:969px;width:32px;height:1px;background:#5a5a5a;"></div>
<div style="left:197px;top:970px;width:32px;height:1px;background:#000000;"></div>
<div style="left:228px;top:951px;width:1px;height:20px;background:#000000;"></div>
<svg width="747" height="976" style="position:absolute;left:0;top:0"><g fill="#000"><rect x="47" y="954" width="4" height="13"/><rect x="54" y="954" width="4" height="13"/><path d="M80,953 L80,969 L92.5,961 Z"/><rect x="110" y="953" width="1" height="16"/><path d="M123,953 L123,969 L111,961 Z"/><path d="M153,953 L153,969 L141,961 Z"/><rect x="155" y="953" width="1" height="16"/><rect x="174" y="953" width="1" height="16"/><path d="M177,953 L177,969 L189,961 Z"/><path d="M206,953 L206,969 L218,961 Z"/><rect x="218" y="953" width="1" height="16"/></g></svg>
<div style="left:229px;top:951px;width:512px;height:20px;background:#d4d0c8;"></div>
<div style="left:229px;top:951px;width:512px;height:1px;background:#c4c0b8;"></div>
<div style="left:230px;top:952px;width:510px;height:1px;background:#ffffff;"></div>
<div style="left:229px;top:970px;width:512px;height:1px;background:#ffffff;"></div>
<div style="left:230px;top:952px;width:1px;height:18px;background:#ffffff;"></div>
<div style="left:234px;top:952px;width:1px;height:18px;background:#b4b0a8;"></div>
<div style="left:235px;top:952px;width:1px;height:18px;background:#ffffff;"></div>
<div style="left:241px;top:952px;width:1px;height:19px;background:#000000;"></div>
<div style="left:340px;top:951px;width:1px;height:19px;background:#ff0000;"></div>
<div style="left:390px;top:951px;width:1px;height:19px;background:#ff0000;"></div>
<div style="left:426px;top:951px;width:1px;height:19px;background:#ff0000;"></div>
<div style="left:464px;top:951px;width:1px;height:19px;background:#ff0000;"></div>
<div style="left:500px;top:951px;width:1px;height:19px;background:#ff0000;"></div>
<div style="left:543px;top:951px;width:1px;height:19px;background:#ff0000;"></div>
<div style="left:579px;top:951px;width:1px;height:19px;background:#ff0000;"></div>
<div style="left:616px;top:951px;width:1px;height:19px;background:#ff0000;"></div>
<div style="left:653px;top:951px;width:1px;height:19px;background:#ff0000;"></div>
<div style="left:694px;top:951px;width:1px;height:19px;background:#ff0000;"></div>
<div style="left:546px;top:953px;width:187px;height:15px;background:#d4d0c8;"></div>
<div style="left:733px;top:952px;width:1px;height:18px;background:#a8a49c;"></div>
<div style="left:734px;top:952px;width:1px;height:18px;background:#ffffff;"></div>
<div style="left:738px;top:952px;width:1px;height:18px;background:#a8a49c;"></div>
<div style="left:739px;top:952px;width:1px;height:18px;background:#ffffff;"></div>
<div style="left:740px;top:951px;width:1px;height:20px;background:#808080;"></div>
<span class="wm" style="left:566px;top:956px">Image by al tech page</span>
<div style="left:741px;top:0px;width:2px;height:976px;background:#fdfdf8;"></div>
<div style="left:743px;top:0;width:4px;height:976px;background:linear-gradient(90deg,#44587c 0,#44587c 25%,#5d77a0 25%,#5f78a0 75%,#4a5d7e 75%)"></div>
</body></html>
